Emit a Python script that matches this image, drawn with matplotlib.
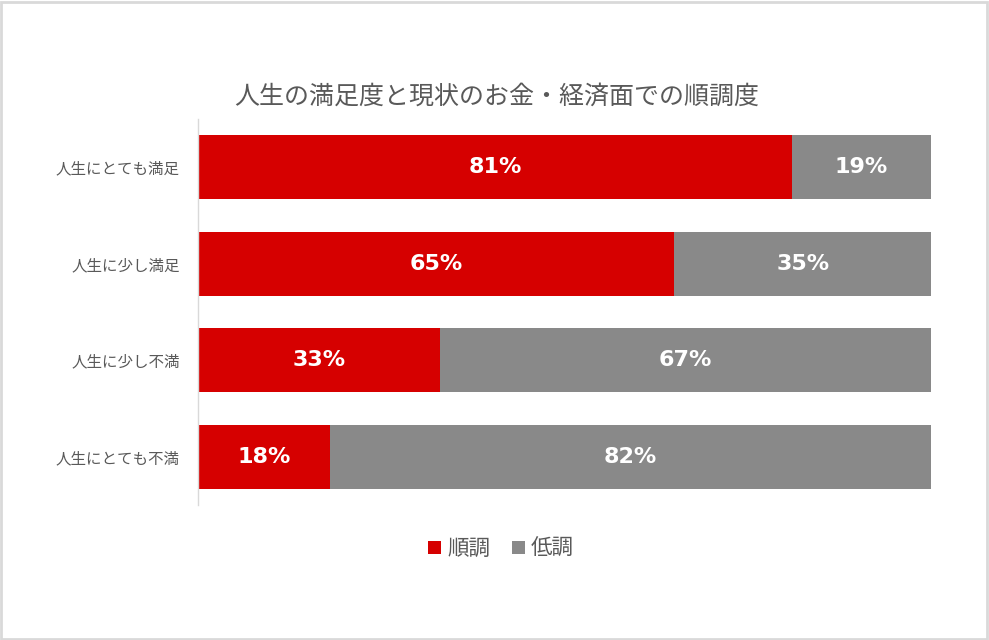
import matplotlib
matplotlib.use("Agg")
import matplotlib.pyplot as plt
from matplotlib.patches import Rectangle

plt.rcParams['font.family'] = ['Noto Sans CJK JP', 'DejaVu Sans']

title = "人生の満足度と現状のお金・経済面での順調度"
categories = ["人生にとても満足", "人生に少し満足", "人生に少し不満", "人生にとても不満"]
series_names = ["順調", "低調"]
good = [81, 65, 33, 18]
bad = [19, 35, 67, 82]
colors = ["#D60000", "#898989"]

fig = plt.figure(figsize=(9.89, 6.40), dpi=100)
ax = fig.add_axes([198/989, 1-505/640, (931-198)/989, (505-119)/640])

y = list(range(len(categories)))
b1 = ax.barh(y, good, height=0.66, color=colors[0], label=series_names[0])
b2 = ax.barh(y, bad, left=good, height=0.66, color=colors[1], label=series_names[1])

for bars, vals in ((b1, good), (b2, bad)):
    for rect, v in zip(bars, vals):
        cx = rect.get_x() + rect.get_width() / 2
        cy = rect.get_y() + rect.get_height() / 2
        ax.text(cx, cy, f"{v}%", ha='center', va='center', color='white',
                fontsize=16, fontweight='bold', family='DejaVu Sans')

ax.set_xlim(0, 100)
ax.set_ylim(3.5, -0.5)
ax.set_yticks(y)
ax.set_yticklabels(categories, fontsize=11.2, color='#595959')
ax.tick_params(axis='y', length=0, pad=13)
ax.set_xticks([])
for s in ['top', 'right', 'bottom']:
    ax.spines[s].set_visible(False)
ax.spines['left'].set_color('#d9d9d9')
ax.spines['left'].set_linewidth(1)

fig.text(497/989, 1-97/640, title, ha='center', va='center', fontsize=18, color='#595959')

leg = fig.legend(handles=[b1, b2], labels=series_names, loc='center',
                 bbox_to_anchor=(501/989, 1-549/640), ncol=2, frameon=False,
                 fontsize=15.5, handlelength=0.6, handleheight=0.6,
                 handletextpad=0.3, columnspacing=1.0)
for t in leg.get_texts():
    t.set_color('#595959')

fig.patches.append(Rectangle((0.001, 0.0015), 0.997, 0.996, transform=fig.transFigure,
                             fill=False, edgecolor='#d9d9d9', linewidth=2))

fig.savefig("out.png", dpi=100)
